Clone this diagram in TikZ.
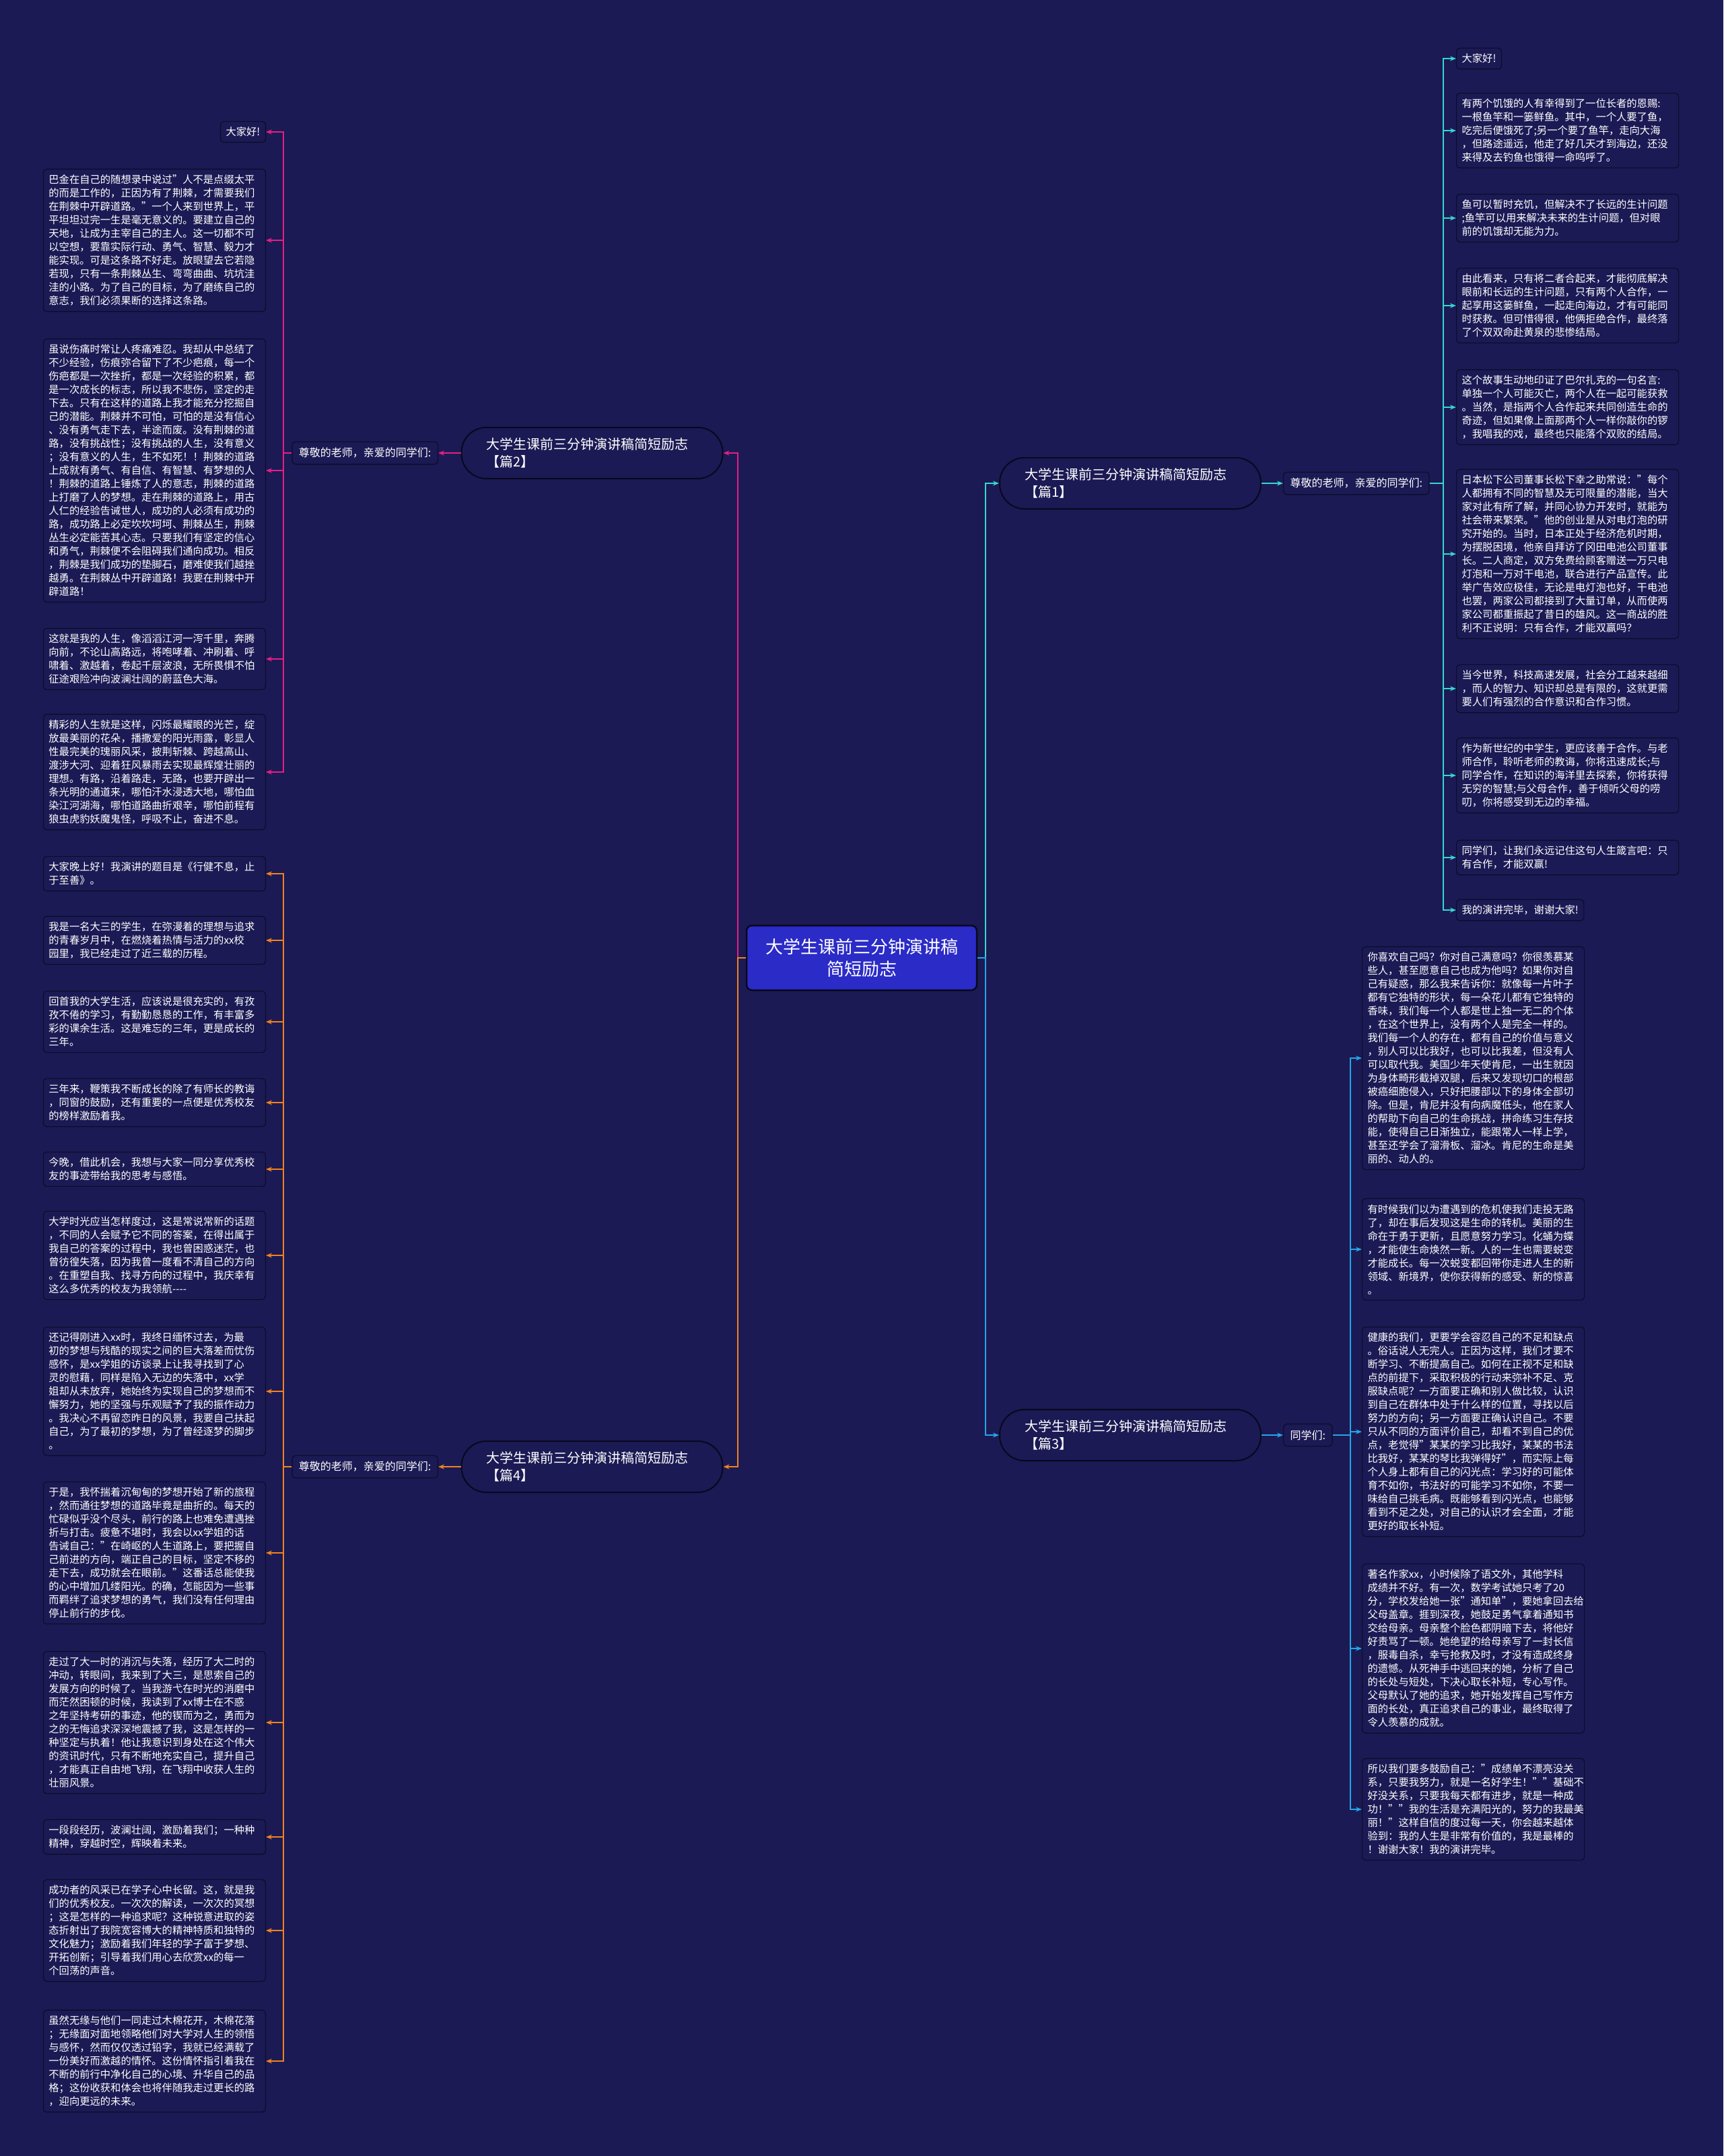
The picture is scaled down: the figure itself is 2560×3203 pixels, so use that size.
\documentclass[tikz,border=0pt]{standalone}
\usepackage{fontspec}
\setmainfont{Noto Sans CJK SC}
\usetikzlibrary{arrows.meta}
\definecolor{bgc}{RGB}{27,26,84}
\definecolor{leafline}{RGB}{12,12,42}
\definecolor{branchline}{RGB}{8,8,30}
\definecolor{centerfill}{RGB}{43,43,200}
\definecolor{pinkc}{RGB}{232,30,132}
\definecolor{orangec}{RGB}{242,130,32}
\definecolor{cyanc}{RGB}{52,216,206}
\definecolor{bluec}{RGB}{36,166,232}
\newcommand{\leaffnt}{\fontsize{15.3}{20}\selectfont}
\newcommand{\branchfnt}{\fontsize{20}{26}\selectfont}
\newcommand{\labfnt}{\fontsize{16}{20}\selectfont}
\newcommand{\centerfnt}{\fontsize{26}{33}\selectfont}
\hyphenpenalty=10000
\tikzset{
  leafbox/.style={draw=leafline, line width=1.2pt, fill=bgc, rounded corners=5pt, text=white, font=\leaffnt, align=left, inner xsep=8pt, inner ysep=8.5pt},
  wide/.style={leafbox, text width=314pt},
  branchbox/.style={draw=branchline, line width=2pt, fill=bgc, rounded corners=37pt, text=white, font=\branchfnt, align=left, text width=314pt, inner xsep=37pt, minimum height=76pt},
  labbox/.style={draw=leafline, line width=1.2pt, fill=bgc, rounded corners=5pt, text=white, font=\labfnt, inner xsep=10pt, inner ysep=9pt},
  conn/.style={line width=2.2pt, -{Stealth[length=9pt,width=7pt]}}
}
\begin{document}
\begin{tikzpicture}[x=1pt,y=-1pt]
\useasboundingbox (0,0) rectangle (2560,3203);
\fill[bgc] (0,0) rectangle (2560,3203);

% root
\node[draw=branchline, line width=2.5pt, fill=centerfill, rounded corners=8pt, text=white, font=\centerfnt, align=center, minimum width=342pt, minimum height=96pt] (root) at (1280,1423) {大学生课前三分钟演讲稿\\简短励志};

% branches
\node[branchbox] (b1) at (1679,718) {大学生课前三分钟演讲稿简短励志\\【篇1】};
\node[branchbox] (b2) at (879.5,673) {大学生课前三分钟演讲稿简短励志\\【篇2】};
\node[branchbox] (b3) at (1679,2132) {大学生课前三分钟演讲稿简短励志\\【篇3】};
\node[branchbox] (b4) at (879.5,2179) {大学生课前三分钟演讲稿简短励志\\【篇4】};

% labels
\node[labbox, anchor=west] (lab1) at (1906,718) {尊敬的老师，亲爱的同学们:};
\node[labbox, anchor=east] (lab2) at (651,673) {尊敬的老师，亲爱的同学们:};
\node[labbox, anchor=west] (lab3) at (1906,2132) {同学们:};
\node[labbox, anchor=east] (lab4) at (651,2179) {尊敬的老师，亲爱的同学们:};

% ---------- right top leaves (篇1)
\node[leafbox, anchor=west] (r1) at (2163,87) {大家好!};
\node[wide, anchor=west] (r2) at (2163,194) {有两个饥饿的人有幸得到了一位长者的恩赐:\\一根鱼竿和一篓鲜鱼。其中，一个人要了鱼，\\吃完后便饿死了;另一个要了鱼竿，走向大海\\，但路途遥远，他走了好几天才到海边，还没\\来得及去钓鱼也饿得一命呜呼了。};
\node[wide, anchor=west] (r3) at (2163,324) {鱼可以暂时充饥，但解决不了长远的生计问题\\;鱼竿可以用来解决未来的生计问题，但对眼\\前的饥饿却无能为力。};
\node[wide, anchor=west] (r4) at (2163,454) {由此看来，只有将二者合起来，才能彻底解决\\眼前和长远的生计问题，只有两个人合作，一\\起享用这篓鲜鱼，一起走向海边，才有可能同\\时获救。但可惜得很，他俩拒绝合作，最终落\\了个双双命赴黄泉的悲惨结局。};
\node[wide, anchor=west] (r5) at (2163,605) {这个故事生动地印证了巴尔扎克的一句名言:\\单独一个人可能灭亡，两个人在一起可能获救\\。当然，是指两个人合作起来共同创造生命的\\奇迹，但如果像上面那两个人一样你敲你的锣\\，我唱我的戏，最终也只能落个双败的结局。};
\node[wide, anchor=west] (r6) at (2163,823) {日本松下公司董事长松下幸之助常说："每个\\人都拥有不同的智慧及无可限量的潜能，当大\\家对此有所了解，并同心协力开发时，就能为\\社会带来繁荣。"他的创业是从对电灯泡的研\\究开始的。当时，日本正处于经济危机时期，\\为摆脱困境，他亲自拜访了冈田电池公司董事\\长。二人商定，双方免费给顾客赠送一万只电\\灯泡和一万对干电池，联合进行产品宣传。此\\举广告效应极佳，无论是电灯泡也好，干电池\\也罢，两家公司都接到了大量订单，从而使两\\家公司都重振起了昔日的雄风。这一商战的胜\\利不正说明：只有合作，才能双赢吗？};
\node[wide, anchor=west] (r7) at (2163,1023) {当今世界，科技高速发展，社会分工越来越细\\，而人的智力、知识却总是有限的，这就更需\\要人们有强烈的合作意识和合作习惯。};
\node[wide, anchor=west] (r8) at (2163,1152) {作为新世纪的中学生，更应该善于合作。与老\\师合作，聆听老师的教诲，你将迅速成长;与\\同学合作，在知识的海洋里去探索，你将获得\\无穷的智慧;与父母合作，善于倾听父母的唠\\叨，你将感受到无边的幸福。};
\node[wide, anchor=west] (r9) at (2163,1274) {同学们，让我们永远记住这句人生箴言吧：只\\有合作，才能双赢!};
\node[leafbox, anchor=west] (r10) at (2163,1352) {我的演讲完毕，谢谢大家!};

% ---------- right bottom leaves (篇3)
\node[wide, anchor=west] (s1) at (2023,1572) {你喜欢自己吗？你对自己满意吗？你很羡慕某\\些人，甚至愿意自己也成为他吗？如果你对自\\己有疑惑，那么我来告诉你：就像每一片叶子\\都有它独特的形状，每一朵花儿都有它独特的\\香味，我们每一个人都是世上独一无二的个体\\，在这个世界上，没有两个人是完全一样的。\\我们每一个人的存在，都有自己的价值与意义\\，别人可以比我好，也可以比我差，但没有人\\可以取代我。美国少年天使肯尼，一出生就因\\为身体畸形截掉双腿，后来又发现切口的根部\\被癌细胞侵入，只好把腰部以下的身体全部切\\除。但是，肯尼并没有向病魔低头，他在家人\\的帮助下向自己的生命挑战，拼命练习生存技\\能，使得自己日渐独立，能跟常人一样上学，\\甚至还学会了溜滑板、溜冰。肯尼的生命是美\\丽的、动人的。};
\node[wide, anchor=west] (s2) at (2023,1856) {有时候我们以为遭遇到的危机使我们走投无路\\了，却在事后发现这是生命的转机。美丽的生\\命在于勇于更新，且愿意努力学习。化蛹为蝶\\，才能使生命焕然一新。人的一生也需要蜕变\\才能成长。每一次蜕变都回带你走进人生的新\\领域、新境界，使你获得新的感受、新的惊喜\\。};
\node[wide, anchor=west] (s3) at (2023,2127) {健康的我们，更要学会容忍自己的不足和缺点\\。俗话说人无完人。正因为这样，我们才要不\\断学习、不断提高自己。如何在正视不足和缺\\点的前提下，采取积极的行动来弥补不足、克\\服缺点呢？一方面要正确和别人做比较，认识\\到自己在群体中处于什么样的位置，寻找以后\\努力的方向；另一方面要正确认识自己。不要\\只从不同的方面评价自己，却看不到自己的优\\点，老觉得"某某的学习比我好，某某的书法\\比我好，某某的琴比我弹得好"，而实际上每\\个人身上都有自己的闪光点：学习好的可能体\\育不如你，书法好的可能学习不如你，不要一\\味给自己挑毛病。既能够看到闪光点，也能够\\看到不足之处，对自己的认识才会全面，才能\\更好的取长补短。};
\node[wide, anchor=west] (s4) at (2023,2449) {著名作家xx，小时候除了语文外，其他学科\\成绩并不好。有一次，数学考试她只考了20\\分，学校发给她一张"通知单"，要她拿回去给\\父母盖章。捱到深夜，她鼓足勇气拿着通知书\\交给母亲。母亲整个脸色都阴暗下去，将他好\\好责骂了一顿。她绝望的给母亲写了一封长信\\，服毒自杀，幸亏抢救及时，才没有造成终身\\的遗憾。从死神手中逃回来的她，分析了自己\\的长处与短处，下决心取长补短，专心写作。\\父母默认了她的追求，她开始发挥自己写作方\\面的长处，真正追求自己的事业，最终取得了\\令人羡慕的成就。};
\node[wide, anchor=west] (s5) at (2023,2688) {所以我们要多鼓励自己："成绩单不漂亮没关\\系，只要我努力，就是一名好学生！""基础不\\好没关系，只要我每天都有进步，就是一种成\\功！""我的生活是充满阳光的，努力的我最美\\丽！"这样自信的度过每一天，你会越来越体\\验到：我的人生是非常有价值的，我是最棒的\\！谢谢大家！我的演讲完毕。};

% ---------- left top leaves (篇2)
\node[leafbox, anchor=east] (l1) at (395,196) {大家好!};
\node[wide, anchor=east] (l2) at (395,357) {巴金在自己的随想录中说过"人不是点缀太平\\的而是工作的，正因为有了荆棘，才需要我们\\在荆棘中开辟道路。"一个人来到世界上，平\\平坦坦过完一生是毫无意义的。要建立自己的\\天地，让成为主宰自己的主人。这一切都不可\\以空想，要靠实际行动、勇气、智慧、毅力才\\能实现。可是这条路不好走。放眼望去它若隐\\若现，只有一条荆棘丛生、弯弯曲曲、坑坑洼\\洼的小路。为了自己的目标，为了磨练自己的\\意志，我们必须果断的选择这条路。};
\node[wide, anchor=east] (l3) at (395,699) {虽说伤痛时常让人疼痛难忍。我却从中总结了\\不少经验，伤痕弥合留下了不少疤痕，每一个\\伤疤都是一次挫折，都是一次经验的积累，都\\是一次成长的标志，所以我不悲伤，坚定的走\\下去。只有在这样的道路上我才能充分挖掘自\\己的潜能。荆棘并不可怕，可怕的是没有信心\\、没有勇气走下去，半途而废。没有荆棘的道\\路，没有挑战性；没有挑战的人生，没有意义\\；没有意义的人生，生不如死！！荆棘的道路\\上成就有勇气、有自信、有智慧、有梦想的人\\！荆棘的道路上锤炼了人的意志，荆棘的道路\\上打磨了人的梦想。走在荆棘的道路上，用古\\人仁的经验告诫世人，成功的人必须有成功的\\路，成功路上必定坎坎坷坷、荆棘丛生，荆棘\\丛生必定能苦其心志。只要我们有坚定的信心\\和勇气，荆棘便不会阻碍我们通向成功。相反\\，荆棘是我们成功的垫脚石，磨难使我们越挫\\越勇。在荆棘丛中开辟道路！我要在荆棘中开\\辟道路！};
\node[wide, anchor=east] (l4) at (395,979) {这就是我的人生，像滔滔江河一泻千里，奔腾\\向前，不论山高路远，将咆哮着、冲刷着、呼\\啸着、激越着，卷起千层波浪，无所畏惧不怕\\征途艰险冲向波澜壮阔的蔚蓝色大海。};
\node[wide, anchor=east] (l5) at (395,1147) {精彩的人生就是这样，闪烁最耀眼的光芒，绽\\放最美丽的花朵，播撒爱的阳光雨露，彰显人\\性最完美的瑰丽风采，披荆斩棘、跨越高山、\\渡涉大河、迎着狂风暴雨去实现最辉煌壮丽的\\理想。有路，沿着路走，无路，也要开辟出一\\条光明的通道来，哪怕汗水浸透大地，哪怕血\\染江河湖海，哪怕道路曲折艰辛，哪怕前程有\\狼虫虎豹妖魔鬼怪，呼吸不止，奋进不息。};

% ---------- left bottom leaves (篇4)
\node[wide, anchor=east] (m1) at (395,1298) {大家晚上好！我演讲的题目是《行健不息，止\\于至善》。};
\node[wide, anchor=east] (m2) at (395,1397) {我是一名大三的学生，在弥漫着的理想与追求\\的青春岁月中，在燃烧着热情与活力的xx校\\园里，我已经走过了近三载的历程。};
\node[wide, anchor=east] (m3) at (395,1518) {回首我的大学生活，应该说是很充实的，有孜\\孜不倦的学习，有勤勤恳恳的工作，有丰富多\\彩的课余生活。这是难忘的三年，更是成长的\\三年。};
\node[wide, anchor=east] (m4) at (395,1638) {三年来，鞭策我不断成长的除了有师长的教诲\\，同窗的鼓励，还有重要的一点便是优秀校友\\的榜样激励着我。};
\node[wide, anchor=east] (m5) at (395,1737) {今晚，借此机会，我想与大家一同分享优秀校\\友的事迹带给我的思考与感悟。};
\node[wide, anchor=east] (m6) at (395,1865) {大学时光应当怎样度过，这是常说常新的话题\\，不同的人会赋予它不同的答案，在得出属于\\我自己的答案的过程中，我也曾困惑迷茫，也\\曾彷徨失落，因为我曾一度看不清自己的方向\\。在重塑自我、找寻方向的过程中，我庆幸有\\这么多优秀的校友为我领航-{}-{}-{}-};
\node[wide, anchor=east] (m7) at (395,2067) {还记得刚进入xx时，我终日缅怀过去，为最\\初的梦想与残酷的现实之间的巨大落差而忧伤\\感怀，是xx学姐的访谈录上让我寻找到了心\\灵的慰藉，同样是陷入无边的失落中，xx学\\姐却从未放弃，她始终为实现自己的梦想而不\\懈努力，她的坚强与乐观赋予了我的振作动力\\。我决心不再留恋昨日的风景，我要自己扶起\\自己，为了最初的梦想，为了曾经逐梦的脚步\\。};
\node[wide, anchor=east] (m8) at (395,2307) {于是，我怀揣着沉甸甸的梦想开始了新的旅程\\，然而通往梦想的道路毕竟是曲折的。每天的\\忙碌似乎没个尽头，前行的路上也难免遭遇挫\\折与打击。疲惫不堪时，我会以xx学姐的话\\告诫自己："在崎岖的人生道路上，要把握自\\己前进的方向，端正自己的目标，坚定不移的\\走下去，成功就会在眼前。"这番话总能使我\\的心中增加几缕阳光。的确，怎能因为一些事\\而羁绊了追求梦想的勇气，我们没有任何理由\\停止前行的步伐。};
\node[wide, anchor=east] (m9) at (395,2559) {走过了大一时的消沉与失落，经历了大二时的\\冲动，转眼间，我来到了大三，是思索自己的\\发展方向的时候了。当我游弋在时光的消磨中\\而茫然困顿的时候，我读到了xx博士在不惑\\之年坚持考研的事迹，他的锲而为之，勇而为\\之的无悔追求深深地震撼了我，这是怎样的一\\种坚定与执着！他让我意识到身处在这个伟大\\的资讯时代，只有不断地充实自己，提升自己\\，才能真正自由地飞翔，在飞翔中收获人生的\\壮丽风景。};
\node[wide, anchor=east] (m10) at (395,2729) {一段段经历，波澜壮阔，激励着我们；一种种\\精神，穿越时空，辉映着未来。};
\node[wide, anchor=east] (m11) at (395,2868) {成功者的风采已在学子心中长留。这，就是我\\们的优秀校友。一次次的解读，一次次的冥想\\；这是怎样的一种追求呢？这种锐意进取的姿\\态折射出了我院宽容博大的精神特质和独特的\\文化魅力；激励着我们年轻的学子富于梦想、\\开拓创新；引导着我们用心去欣赏xx的每一\\个回荡的声音。};
\node[wide, anchor=east] (m12) at (395,3062) {虽然无缘与他们一同走过木棉花开，木棉花落\\；无缘面对面地领略他们对大学对人生的领悟\\与感怀，然而仅仅透过铅字，我就已经满载了\\一份美好而激越的情怀。这份情怀指引着我在\\不断的前行中净化自己的心境、升华自己的品\\格；这份收获和体会也将伴随我走过更长的路\\，迎向更远的未来。};

% ---------- connectors
\draw[conn, cyanc] (root.east) -- ++(12,0) |- (b1.west);
\draw[conn, bluec] (root.east) -- ++(12,0) |- (b3.west);
\draw[conn, pinkc] (root.west) -- ++(-12,0) |- (b2.east);
\draw[conn, orangec] (root.west) -- ++(-12,0) |- (b4.east);

\draw[conn, cyanc] (b1.east) -- (lab1.west);
\draw[conn, pinkc] (b2.west) -- (lab2.east);
\draw[conn, bluec] (b3.east) -- (lab3.west);
\draw[conn, orangec] (b4.west) -- (lab4.east);

\foreach \n in {r1,r2,r3,r4,r5,r6,r7,r8,r9,r10}
  \draw[conn, cyanc] (lab1.east) -- ++(20,0) |- (\n.west);
\foreach \n in {s1,s2,s3,s4,s5}
  \draw[conn, bluec] (lab3.east) -- ++(26,0) |- (\n.west);
\foreach \n in {l1,l2,l3,l4,l5}
  \draw[conn, pinkc] (lab2.west) -- ++(-12,0) |- (\n.east);
\foreach \n in {m1,m2,m3,m4,m5,m6,m7,m8,m9,m10,m11,m12}
  \draw[conn, orangec] (lab4.west) -- ++(-12,0) |- (\n.east);
\end{tikzpicture}
\end{document}
